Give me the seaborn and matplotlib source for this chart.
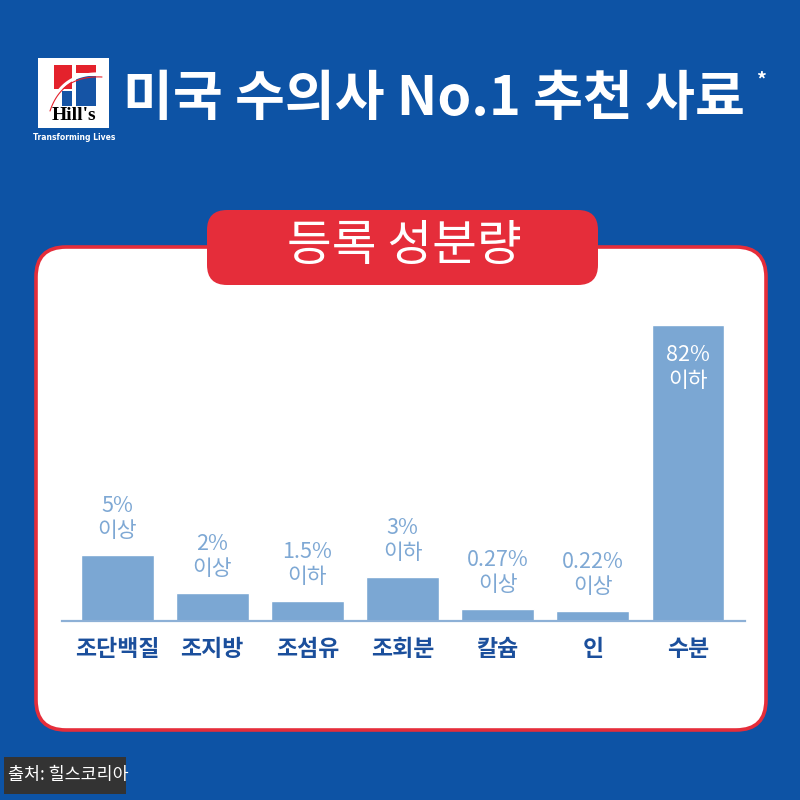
import matplotlib
matplotlib.use("Agg")
import matplotlib.pyplot as plt
from matplotlib.patches import FancyBboxPatch, Rectangle
import seaborn as sns
import pandas as pd
import numpy as np

# ---- data ----
categories = ["조단백질", "조지방", "조섬유", "조회분", "칼슘", "인", "수분"]
value_labels = ["5%", "2%", "1.5%", "3%", "0.27%", "0.22%", "82%"]
qualifiers = ["이상", "이상", "이하", "이하", "이상", "이상", "이하"]
# bar heights as drawn in the graphic (not proportional to the percentages)
bar_heights = [66, 28, 20, 44, 12.5, 10, 296]

title = "미국 수의사 No.1 추천 사료"
panel_title = "등록 성분량"
source = "출처: 힐스코리아"

# ---- style ----
BG = "#0d53a5"
RED = "#e52d3a"
BAR = "#7ba7d3"
LABEL = "#7ea8d4"
CAT = "#1b4f9c"

sns.set_theme(style="white")
plt.rcParams["font.family"] = ["Noto Sans CJK KR", "DejaVu Sans"]

fig = plt.figure(figsize=(8, 8), dpi=100, facecolor=BG)

# background / decoration axes in pixel coordinates
bg = fig.add_axes([0, 0, 1, 1], zorder=0)
bg.set_xlim(0, 800)
bg.set_ylim(800, 0)
bg.axis("off")
bg.set_facecolor(BG)

# white panel with red border
bg.add_patch(FancyBboxPatch((36, 247), 730, 483,
                            boxstyle="round,pad=0,rounding_size=30",
                            facecolor="white", edgecolor=RED, linewidth=2.6))
# red pill title
bg.add_patch(FancyBboxPatch((207, 210), 391, 75,
                            boxstyle="round,pad=0,rounding_size=20",
                            facecolor=RED, edgecolor="none"))
bg.text(404, 246, panel_title, color="white", fontsize=35, ha="center",
        va="center", fontweight="medium")

# header title
bg.text(123, 100, title, color="white", fontsize=39, fontweight="bold",
        ha="left", va="center")
bg.text(756, 80, "*", color="white", fontsize=14, fontweight="bold",
        ha="left", va="center")

# Hill's logo (simplified)
logo_box = Rectangle((38, 58), 71, 70, facecolor="white", edgecolor="none")
bg.add_patch(logo_box)
bg.add_patch(Rectangle((54, 65), 18, 24, facecolor="#e4222c", edgecolor="none"))
bg.add_patch(Rectangle((76, 65), 20, 8, facecolor="#e4222c", edgecolor="none"))
bg.add_patch(Rectangle((76, 76), 20, 30, facecolor="#1554a5", edgecolor="none"))
bg.add_patch(Rectangle((62, 91), 10, 15, facecolor="#1554a5", edgecolor="none"))
t = np.linspace(0, 1, 40)
cx = (1 - t) ** 2 * 50 + 2 * (1 - t) * t * 62 + t ** 2 * 102
cy = (1 - t) ** 2 * 108 + 2 * (1 - t) * t * 72 + t ** 2 * 74
line, = bg.plot(cx, cy, color="white", linewidth=2.2, solid_capstyle="butt")
line.set_clip_path(logo_box)
bg.plot(cx, cy + 3, color="#e4222c", linewidth=0.8).__iter__
bg.lines[-1].set_clip_path(logo_box)
bg.text(74, 116, "Hill's", color="black", fontsize=14, fontweight="bold",
        family="Liberation Serif", ha="center", va="center")
bg.text(74, 137, "Transforming Lives", color="white", fontsize=5.5,
        fontweight="bold", family="DejaVu Sans", ha="center", va="center")

# source box
bg.add_patch(Rectangle((4, 757), 122, 37, facecolor="#333333", edgecolor="none"))
bg.text(8, 775, source, color="white", fontsize=12.5, ha="left", va="center")

# ---- bar chart ----
ax = fig.add_axes([62 / 800, 1 - 621 / 800, 683 / 800, 300 / 800], zorder=1)
ax.patch.set_alpha(0)
df = pd.DataFrame({"category": categories, "height": bar_heights})
sns.barplot(data=df, x="category", y="height", color=BAR, saturation=1,
            width=0.767, ax=ax, zorder=3)
ax.set_xlim(-0.578, 6.599)
ax.set_ylim(0, 300)
ax.set_xlabel("")
ax.set_ylabel("")
ax.set_yticks([])
for s in ["top", "left", "right"]:
    ax.spines[s].set_visible(False)
ax.spines["bottom"].set_color("#8db0d6")
ax.spines["bottom"].set_linewidth(1.6)
ax.spines["bottom"].set_zorder(4)
ax.tick_params(axis="x", length=0, pad=12)
for tl in ax.get_xticklabels():
    tl.set_color(CAT)
    tl.set_fontsize(16.5)
    tl.set_fontweight("bold")

fs = 15.5
for i, (h, v, q) in enumerate(zip(bar_heights, value_labels, qualifiers)):
    if h > 150:
        c, o1, o2 = "white", -30, -56
    else:
        c, o1, o2 = LABEL, 49, 24
    ax.annotate(v, (i, h), xytext=(0, o1 / 1.389), textcoords="offset points",
                ha="center", va="center", color=c, fontsize=fs,
                fontweight="medium")
    ax.annotate(q, (i, h), xytext=(0, o2 / 1.389), textcoords="offset points",
                ha="center", va="center", color=c, fontsize=fs,
                fontweight="medium")

fig.savefig("out.png", dpi=100, facecolor=BG)
